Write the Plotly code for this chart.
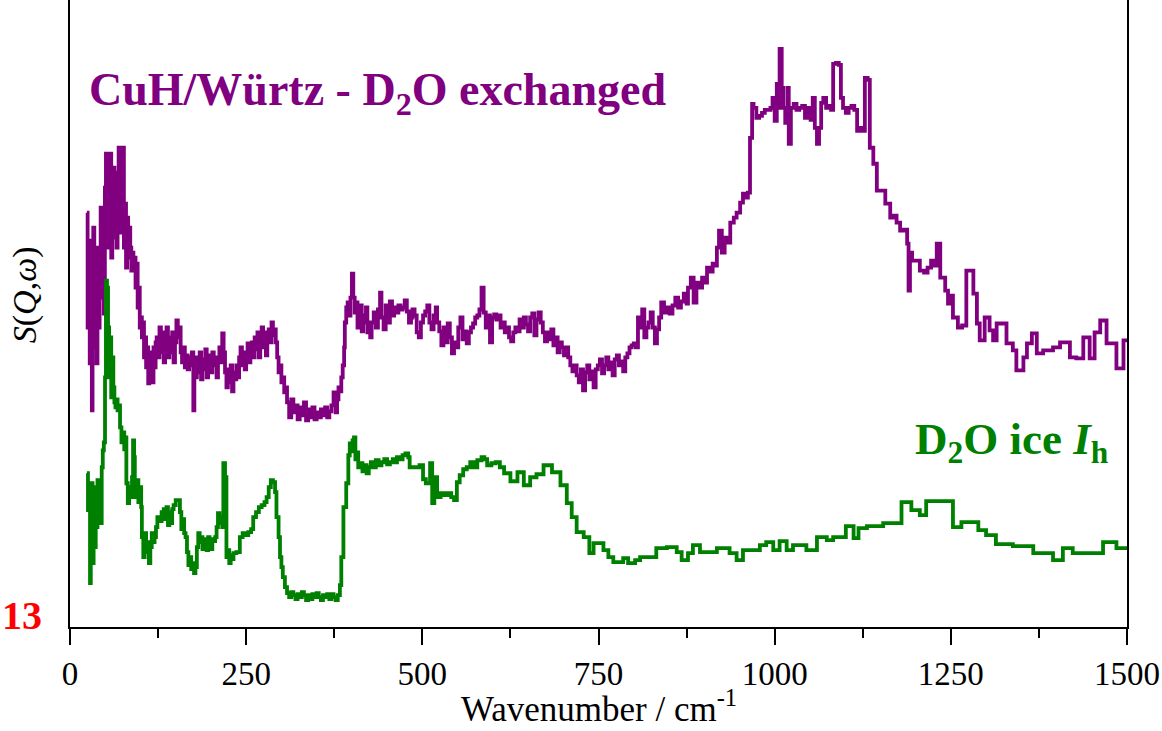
import plotly.graph_objects as go

# Binned S(Q,w) spectra: (bin start / cm-1, intensity in arbitrary units)
cuh_bins = [
    (24, 415), (25, 300), (26.5, 380), (28, 264), (29.5, 387), (31, 217), (32, 330), (33, 400),
    (34.5, 280), (36, 350), (37.5, 264), (39, 380), (40.5, 300), (42, 360), (43.5, 420), (45, 330),
    (46.5, 400), (48, 314), (49.5, 440), (51, 474), (52.5, 380), (54, 470), (55.5, 400), (57, 474),
    (58.5, 370), (60, 440), (61.5, 460), (63, 390), (64.5, 455), (66, 380), (67.5, 430), (69, 480),
    (70.5, 395), (72, 478), (73.5, 410), (75, 480), (76.5, 380), (78, 424), (79.5, 360), (81, 410),
    (82.5, 370), (84, 400), (85.5, 380), (87, 357), (88.5, 375), (90, 360), (91.5, 370), (93, 340),
    (94.5, 364), (96, 320), (97.5, 340), (99, 300), (100.5, 310),
    (102, 290), (103.5, 305), (105, 270), (106.5, 290), (108, 260), (109.5, 280), (111, 244),
    (112.5, 265), (114, 250), (115.5, 275), (117, 245), (118.5, 280), (120, 260), (121.5, 285),
    (123, 290), (125, 270), (127, 300), (129, 275), (131, 295), (133, 265), (135, 285), (137, 300),
    (139, 270), (141, 290), (143, 275), (145, 295), (147, 265), (149, 285), (151, 307), (153, 290),
    (155, 300), (157, 275), (159, 265), (161, 280), (163, 260), (165, 272), (167, 258), (169, 270),
    (171, 262), (173, 275), (175, 217), (176.5, 260),
    (178, 250), (180, 270), (182, 255), (184, 275), (186, 248), (188, 268), (190, 258), (192, 278),
    (194, 250), (196, 265), (198, 272), (200, 255), (202, 275), (204, 262), (206, 270), (208, 250),
    (210, 268), (212, 280), (214, 265), (216, 294), (218, 275),
    (220, 255), (222, 240), (224, 258), (226, 245), (228, 262), (230, 236), (232, 255), (234, 248),
    (236, 262), (238, 250), (240, 270), (242, 280), (244, 262), (246, 275), (248, 258), (250, 270),
    (252, 284), (254, 265), (256, 275), (258, 285), (260, 270), (262, 290), (264, 278), (266, 295),
    (268, 270), (270, 288), (272, 300), (274, 280), (276, 295), (278, 272), (280, 290), (282, 298),
    (284, 285), (286, 305), (288, 292), (290, 298), (292, 285),
    (294, 270), (296, 255), (298, 262), (300, 245), (302, 250), (304, 235), (306, 240),
    (308, 225), (311, 210), (314, 228), (317, 215), (320, 222), (323, 208), (326, 220), (329, 212),
    (332, 225), (335, 207), (338, 218), (341, 210), (344, 220), (347, 208), (350, 215), (353, 210),
    (356, 218), (359, 212), (362, 220), (365, 210), (368, 216), (371, 222), (374, 235), (377, 215),
    (379, 228), (381, 240), (383, 236), (385, 250), (387, 262), (389, 280), (390, 305), (392, 320),
    (394, 325), (396, 312), (398, 330), (400, 354), (402, 330),
    (404, 315), (406, 325), (408, 300), (410, 318), (412, 322), (414, 296), (416, 312), (418, 305),
    (420, 320), (422, 295), (424, 305), (426, 290),
    (428, 305), (431, 315), (434, 300), (437, 318), (440, 335), (442, 310), (445, 298), (448, 322),
    (451, 305), (454, 326), (457, 312), (460, 320), (463, 315), (466, 322), (469, 318), (472, 320),
    (475, 327), (478, 316), (481, 305), (484, 310),
    (486, 318), (489, 312), (492, 295), (495, 290), (498, 305), (501, 312), (504, 316), (507, 322),
    (510, 305), (513, 298), (516, 312), (519, 320),
    (521, 305), (524, 296), (527, 282), (530, 300), (533, 285), (536, 304), (539, 290), (542, 274),
    (545, 285), (548, 280), (551, 300), (554, 310), (557, 288), (560, 296), (563, 284), (566, 295),
    (569, 300), (572, 304), (575, 310), (578, 312), (581, 318), (584, 340), (587, 315),
    (590, 300), (593, 312), (596, 285), (599, 310), (602, 313), (605, 308), (608, 312), (611, 300),
    (614, 305), (617, 295), (620, 300), (623, 290), (626, 286), (629, 295), (632, 300), (635, 296),
    (638, 308), (641, 300), (644, 310), (647, 303), (650, 296), (653, 310), (656, 314), (659, 292),
    (662, 308), (665, 315), (668, 305),
    (671, 295), (674, 286), (677, 295), (680, 288), (683, 298), (686, 282), (689, 290), (692, 275),
    (695, 285), (698, 280), (701, 272), (704, 280), (707, 270),
    (710, 262), (713, 256), (716, 262), (719, 252), (722, 245), (725, 258), (728, 237), (731, 255),
    (734, 262), (737, 248), (740, 256), (743, 240), (746, 258),
    (749, 262), (752, 268), (755, 254), (758, 262), (761, 270), (764, 258), (767, 265), (770, 252),
    (773, 268), (776, 272), (779, 262), (782, 266), (785, 256), (788, 270), (791, 274),
    (794, 280), (797, 282), (800, 284), (803, 280),
    (806, 310), (809, 300), (812, 318), (815, 290), (818, 300), (821, 305), (824, 315), (827, 300),
    (830, 284), (833, 298), (836, 310),
    (839, 325), (843, 315), (847, 320), (851, 314), (855, 322), (859, 330), (863, 320), (867, 326),
    (871, 334), (875, 324), (877, 340), (881, 350), (885, 325), (889, 345), (893, 340), (897, 350),
    (901, 345), (904, 360), (908, 356), (912, 364), (916, 362),
    (918, 380), (921, 397), (925, 375), (929, 390), (933, 385), (937, 405), (942, 410), (946, 415),
    (951, 425), (955, 434), (959, 430), (962, 435),
    (965, 490), (968, 524), (970, 520), (974, 510), (978, 512), (982, 515), (986, 518), (990, 518),
    (994, 520), (997, 530), (1000, 507), (1003, 544), (1005, 520), (1007, 579), (1010, 540),
    (1012, 520), (1015, 505), (1018, 540),
    (1020, 484), (1023, 520), (1027, 524), (1031, 518), (1035, 520), (1039, 522), (1043, 510),
    (1047, 520), (1051, 508), (1054, 530), (1057, 500), (1060, 484), (1063, 500), (1066, 525),
    (1069, 530), (1073, 520), (1077, 522), (1080, 518), (1083, 564), (1087, 565), (1091, 563),
    (1094, 530), (1097, 520), (1101, 515), (1105, 520), (1109, 522), (1113, 518), (1117, 497),
    (1121, 500), (1124, 497), (1128, 550), (1132, 548), (1135, 480), (1140, 464), (1145, 437),
    (1151, 437), (1157, 424), (1164, 410), (1169, 412), (1173, 405), (1178, 397), (1183, 398),
    (1188, 384), (1190, 337), (1192, 375), (1195, 367), (1200, 367), (1206, 357), (1212, 355),
    (1217, 360), (1222, 367), (1226, 362), (1230, 384), (1235, 350), (1242, 337), (1246, 324),
    (1250, 332), (1253, 310), (1260, 300), (1266, 302), (1272, 357),
    (1282, 334), (1287, 304), (1291, 287), (1298, 310), (1305, 297), (1310, 287), (1315, 304),
    (1329, 284), (1338, 277), (1343, 257), (1353, 270), (1358, 284), (1365, 294), (1372, 274),
    (1381, 277), (1395, 280), (1405, 285), (1419, 270), (1428, 269), (1438, 290), (1447, 269),
    (1454, 295), (1462, 307), (1471, 284), (1485, 259), (1495, 287), (1500, 287),
]

ice_bins = [
    (24, 154), (25.5, 117), (27, 140), (28.4, 44), (29.5, 100), (30.5, 144), (32, 64), (33.5, 120),
    (35, 80), (36.5, 140), (38, 100), (39, 147), (40.5, 110), (42, 140), (43.5, 104), (45, 160),
    (46.5, 177), (48, 185), (49.7, 250), (51, 347), (52.5, 340), (54, 300), (55.5, 250), (57, 290),
    (58.5, 230), (60, 270), (61.5, 240), (63, 225), (64.5, 220), (66, 228), (67.5, 217), (69, 222),
    (71, 200), (73, 185), (75, 195), (77, 178), (79, 190), (80, 144), (82, 124), (84, 140),
    (86, 130), (88, 150), (89.5, 187), (91, 170), (92, 135), (93, 130), (95, 147), (97, 125),
    (99, 140), (101, 120), (102, 90), (104, 70), (106, 94), (108, 75), (110, 85), (112, 64),
    (114, 80), (116, 94), (118, 85), (120, 90), (122, 100), (124, 110), (127, 106), (130, 115),
    (133, 118), (135, 108), (137, 120), (139, 102), (141, 115), (143, 104), (145, 118), (147, 122),
    (150, 127), (156, 115), (158, 98), (160, 108), (162, 94), (164, 90), (166, 75), (168, 62),
    (170, 70), (172, 58), (174, 64), (176, 54), (178, 60), (180, 80), (182, 94), (184, 85),
    (186, 90), (188, 78), (190, 88), (192, 82), (194, 77), (196, 90), (198, 84), (200, 78),
    (202, 88), (204, 86), (206, 90), (208, 100), (210, 114), (212, 104), (214, 110), (216, 100),
    (217.6, 164), (220, 150), (222, 70), (224, 77), (226, 64), (228, 72), (230, 68), (232, 74),
    (236, 75), (241, 90), (245, 94), (249, 92), (253, 95), (257, 98), (260, 110), (264, 115),
    (268, 120), (272, 122), (276, 125), (279, 130), (282, 140), (285, 147), (288, 145), (291, 135),
    (293, 110), (296, 90), (298, 70), (300, 60), (302, 50), (305, 40), (308, 34), (311, 30),
    (314, 35), (317, 32), (320, 28), (323, 33), (326, 30), (329, 35), (332, 32), (335, 27),
    (338, 32), (341, 28), (344, 33), (347, 30), (350, 34), (353, 30), (356, 27), (359, 32),
    (362, 30), (365, 33), (368, 28), (371, 33), (374, 30), (377, 27), (380, 32), (383, 42),
    (385, 70), (388, 120), (392, 144), (395, 172), (397, 184), (399, 176), (401, 187), (403, 190),
    (405, 168), (407, 175), (409, 160), (412, 164), (415, 156), (418, 162), (421, 154), (424, 160),
    (427, 165), (430, 160), (434, 167), (438, 162), (442, 165), (446, 168), (450, 163), (454, 165),
    (458, 168), (462, 165), (464, 170), (468, 168), (472, 172), (476, 174), (480, 170), (482, 160),
    (490, 160), (496, 162), (501, 148), (505, 144), (511, 164), (514, 124), (517, 150), (521, 130),
    (526, 134), (531, 132), (536, 134), (541, 130), (545, 127), (549, 145), (553, 152), (558, 158),
    (563, 160), (568, 165), (573, 160), (578, 167), (584, 170), (588, 168), (592, 162), (598, 164),
    (604, 165), (610, 160), (616, 154), (625, 146), (635, 155), (644, 142), (653, 150), (662, 153),
    (672, 162), (684, 155), (696, 142), (705, 124), (712, 110), (719, 95), (729, 90), (737, 74),
    (743, 84), (757, 77), (764, 70), (771, 65), (785, 69), (792, 64), (802, 67), (809, 70),
    (832, 79), (847, 80), (861, 75), (868, 67), (877, 74), (884, 82), (894, 75), (903, 75),
    (918, 79), (936, 74), (946, 67), (955, 77), (979, 82), (988, 85), (998, 77), (1007, 86),
    (1017, 77), (1026, 82), (1045, 77), (1060, 90), (1074, 87), (1083, 90), (1093, 90), (1101, 101),
    (1112, 89), (1119, 99), (1131, 101), (1154, 104), (1180, 125), (1194, 117), (1206, 112),
    (1215, 126), (1253, 100), (1265, 105), (1289, 97), (1300, 92), (1314, 83), (1338, 81),
    (1367, 74), (1395, 67), (1409, 79), (1423, 74), (1466, 85), (1485, 79), (1500, 79),
]

x_ticks = [0, 250, 500, 750, 1000, 1250, 1500]
x_minor_ticks = [125, 375, 625, 875, 1125, 1375]

cuh_x, cuh_y = zip(*cuh_bins)
ice_x, ice_y = zip(*ice_bins)

SERIF = "Liberation Serif, Times New Roman, serif"
PURPLE = "#800080"
GREEN = "#008000"

fig = go.Figure()
fig.add_trace(go.Scatter(x=cuh_x, y=cuh_y, mode="lines", line_shape="hv",
                         line=dict(color=PURPLE, width=3.8), name="CuH/Würtz - D2O exchanged"))
fig.add_trace(go.Scatter(x=ice_x, y=ice_y, mode="lines", line_shape="hv",
                         line=dict(color=GREEN, width=3.8), name="D2O ice Ih"))

fig.update_layout(
    width=1162, height=731,
    margin=dict(l=70, r=35, t=0, b=104),
    paper_bgcolor="white", plot_bgcolor="white",
    showlegend=False,
    font=dict(family=SERIF, size=33, color="black"),
    xaxis=dict(
        range=[0, 1500], tickvals=x_ticks, ticktext=[str(v) for v in x_ticks],
        showline=True, linecolor="black", linewidth=2, showgrid=False, zeroline=False,
        ticks="outside", ticklen=16, tickwidth=2, tickcolor="black",
        minor=dict(tickvals=x_minor_ticks, ticks="outside",
                   ticklen=9, tickwidth=2, tickcolor="black", showgrid=False),
        tickfont=dict(family=SERIF, size=33, color="black"),
    ),
    yaxis=dict(
        range=[0, 628], showline=True, mirror=True, linecolor="black", linewidth=2,
        showgrid=False, zeroline=False, showticklabels=False, ticks="",
    ),
)

annotations = [
    dict(text="Wavenumber / cm<sup>-1</sup>", x=0.5, y=-0.126, xref="paper", yref="paper",
         xanchor="center", yanchor="middle", showarrow=False,
         font=dict(family=SERIF, size=35, color="black")),
    dict(text="<i>S</i>(<i>Q</i>,<i>ω</i>)", x=-0.043, y=0.53, xref="paper", yref="paper",
         xanchor="center", yanchor="middle", textangle=-90, showarrow=False,
         font=dict(family=SERIF, size=34, color="black")),
    dict(text="<b>CuH/Würtz - D<sub>2</sub>O exchanged</b>", x=0.016, y=0.852,
         xref="paper", yref="paper", xanchor="left", yanchor="middle", showarrow=False,
         font=dict(family=SERIF, size=46, color=PURPLE)),
    dict(text="<b>D<sub>2</sub>O ice <i>I</i><sub>h</sub></b>", x=0.985, y=0.295,
         xref="paper", yref="paper", xanchor="right", yanchor="middle", showarrow=False,
         font=dict(family=SERIF, size=45, color=GREEN)),
    dict(text="<b>13</b>", x=-0.066, y=0.019, xref="paper", yref="paper",
         xanchor="left", yanchor="middle", showarrow=False,
         font=dict(family=SERIF, size=40, color="red")),
]
fig.update_layout(annotations=annotations)

fig.write_html("out.html")
